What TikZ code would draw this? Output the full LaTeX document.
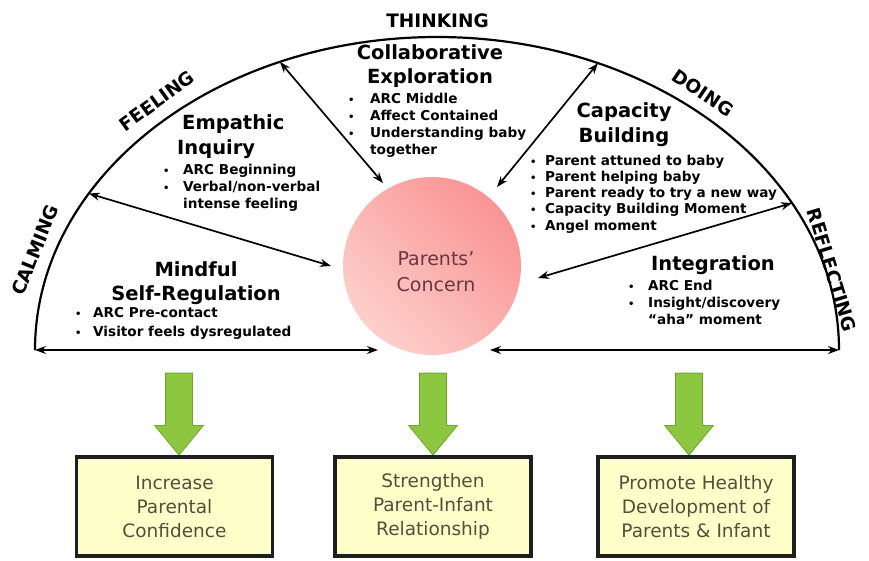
\documentclass[tikz,border=0pt]{standalone}
\usepackage{fontspec}
\setmainfont{DejaVu Sans}
\usetikzlibrary{arrows.meta,calc,shapes.arrows}
\definecolor{agreen}{RGB}{141,198,63}
\definecolor{agreenline}{RGB}{112,168,45}
\definecolor{boxfill}{RGB}{255,255,202}
\definecolor{boxline}{RGB}{30,30,30}
\definecolor{boxtext}{RGB}{80,80,60}
\definecolor{pinklight}{RGB}{253,208,203}
\definecolor{pinkdark}{RGB}{249,148,148}
\definecolor{pctext}{RGB}{105,55,65}
\newcommand\bul[1][20pt]{\makebox[#1][l]{\fontsize{10}{10}\selectfont\textbullet}}
\begin{document}
\begin{tikzpicture}[x=1pt,y=-1pt,
  arcline/.style={line width=2.2pt, black},
  dbl/.style={line width=1.7pt, black, {Stealth[length=11pt,width=8pt]}-{Stealth[length=11pt,width=8pt]}},
  title/.style={font=\fontsize{19.5}{24.5}\selectfont\bfseries, inner sep=0, align=center, anchor=north},
  blist/.style={font=\fontsize{13.6}{17.4}\selectfont\bfseries, inner sep=0, align=left, anchor=north west},
  arclabel/.style={font=\fontsize{18.5}{20}\selectfont\bfseries, inner sep=0},
  greenarrow/.style={single arrow, draw=agreenline, line width=0.8pt, fill=agreen, minimum height=82pt, single arrow head extend=11pt, single arrow tip angle=79, inner xsep=0pt, inner ysep=13pt, text height=0pt, text depth=0pt, rotate=-90},
  outbox/.style={draw=boxline, line width=3.5pt, fill=boxfill, minimum width=196pt, minimum height=99pt, align=center, inner sep=0pt, font=\fontsize{18.5}{24}\selectfont, text=boxtext}
]
\useasboundingbox (0,0) rectangle (869,560);

% semicircle (ellipse arc)
\coordinate (O) at (437,350);
\draw[arcline] ($(O)+(-402pt,0pt)$) arc[start angle=180, end angle=0, x radius=402pt, y radius=313pt];

% central circle
\node[circle, minimum size=178pt, inner sep=0pt, left color=pinklight, right color=pinkdark, shading angle=135] (pc) at (432,266) {};
\node[font=\fontsize{19}{26}\selectfont, text=pctext, align=center, inner sep=0pt] (pct) at (436,272) {Parents’\\Concern};

% arc points
\coordinate (a1) at ($(O)+(113:402pt and 313pt)$);
\coordinate (a2) at ($(O)+(150:402pt and 313pt)$);
\coordinate (a3) at ($(O)+(180:402pt and 313pt)$);
\coordinate (a4) at ($(O)+(66.4:402pt and 313pt)$);
\coordinate (a5) at ($(O)+(28:402pt and 313pt)$);
\coordinate (a6) at ($(O)+(0:402pt and 313pt)$);
% circle-side ends
\coordinate (e1) at (383,183);
\coordinate (e2) at (331,266);
\coordinate (e3) at (378,350);
\coordinate (e4) at (497,187);
\coordinate (e5) at (538,278);
\coordinate (e6) at (490,350);

\draw[dbl] (a1) -- (e1);
\draw[dbl] (a2) -- (e2);
\draw[dbl] (a3) -- (e3);
\draw[dbl] (a4) -- (e4);
\draw[dbl] (a5) -- (e5);
\draw[dbl] (e6) -- (a6);

% arc labels
\node[arclabel] (lT) at (437.5,20.5) {THINKING};
\node[arclabel, rotate=36] (lF) at (157,101) {FEELING};
\node[arclabel, rotate=68] (lC) at (35,250) {CALMING};
\node[arclabel, rotate=-34] (lD) at (703,93) {DOING};
\node[arclabel, rotate=-73] (lR) at (832,270) {REFLECTING};

% sector texts
\node[title, font=\fontsize{19.5}{24}\selectfont\bfseries] (tCE) at (430,44) {Collaborative\\Exploration};
\node[blist, font=\fontsize{13.6}{17.3}\selectfont\bfseries] (lCE) at (348,92.5) {\bul[22pt]ARC Middle\\\bul[22pt]Affect Contained\\\bul[22pt]Understanding baby\\\hspace*{22pt}together};

\node[title, font=\fontsize{19.5}{25}\selectfont\bfseries, align=left, anchor=north west] (tEI) at (177,114.5) {\hspace*{5pt}Empathic\\Inquiry};
\node[blist] (lEI) at (163,163.5) {\bul ARC Beginning\\\bul Verbal/non-verbal\\\hspace*{20pt}intense feeling};

\node[title, font=\fontsize{19.5}{24}\selectfont\bfseries] (tMS) at (196,261.5) {Mindful\\Self-Regulation};
\node[blist, font=\fontsize{13.6}{19}\selectfont\bfseries] (lMS) at (75,307.5) {\bul[18pt]ARC Pre-contact\\\bul[18pt]Visitor feels dysregulated};

\node[title, font=\fontsize{19.5}{25}\selectfont\bfseries] (tCB) at (624,102.5) {Capacity\\Building};
\node[blist, font=\fontsize{13.6}{16.3}\selectfont\bfseries] (lCB) at (530,154.5) {\bul[15pt]Parent attuned to baby\\\bul[15pt]Parent helping baby\\\bul[15pt]Parent ready to try a new way\\\bul[15pt]Capacity Building Moment\\\bul[15pt]Angel moment};

\node[title] (tIn) at (713,255.5) {Integration};
\node[blist] (lIn) at (628,279.5) {\bul ARC End\\\bul Insight/discovery\\\hspace*{20pt}“aha” moment};

% green arrows
\node[greenarrow] (g1) at (179,406) {};
\node[greenarrow] (g2) at (433,406) {};
\node[greenarrow] (g3) at (689,406) {};

% outcome boxes
\node[outbox] (b1) at (174.5,506.5) {Increase\\Parental\\Confidence};
\node[outbox] (b2) at (433,506.5) {Strengthen\\Parent-Infant\\Relationship};
\node[outbox] (b3) at (696,506.5) {Promote Healthy\\Development of\\Parents \& Infant};
\end{tikzpicture}
\end{document}
